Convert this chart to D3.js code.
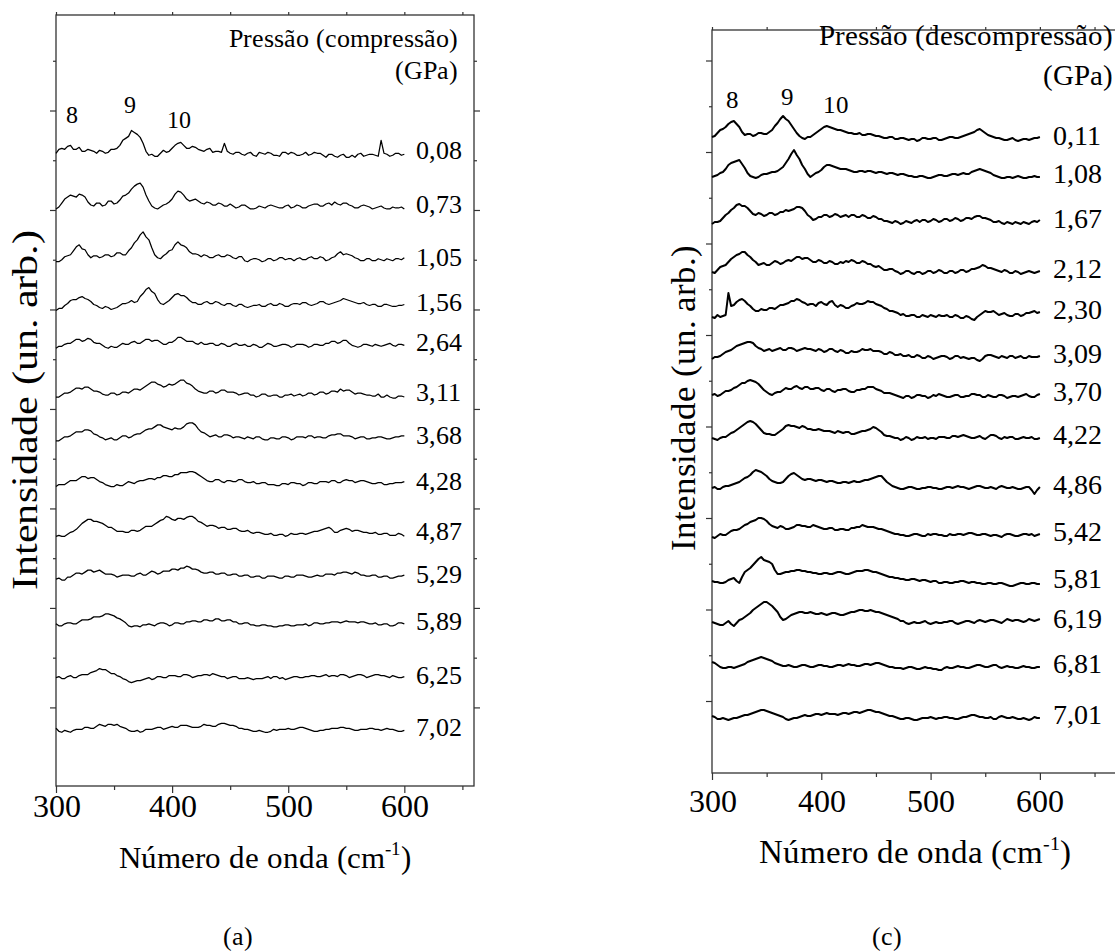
<!DOCTYPE html>
<html>
<head>
<meta charset="utf-8">
<script src="https://cdn.jsdelivr.net/npm/d3@7"></script>
<style>
  @font-face {
    font-family: "FigSerif";
    src: local("Liberation Serif"), local("LiberationSerif"), local("LiberationSerif-Regular"),
         local("Tinos"), local("Tinos-Regular"), local("DejaVu Serif"), local("DejaVuSerif"),
         local("Noto Serif"), local("NotoSerif-Regular"), local("Times New Roman"), local("TimesNewRomanPSMT"),
         local("FreeSerif"), local("NimbusRoman-Regular");
  }
  body { margin: 0; background: #fff; }
  svg { display: block; }
  svg text { font-family: "FigSerif", "Liberation Serif", "Tinos", "DejaVu Serif", "Noto Serif", "FreeSerif", "Times New Roman", Times, serif; fill: #000; }
</style>
</head>
<body>
<svg id="fig" width="1115" height="952"></svg>
<script>
// Raman shift grid shared by every spectrum (cm^-1)
const wavenumbers = [
  300,302.5,305,307.5,310,312.5,315,317.5,320,322.5,
  325,327.5,330,332.5,335,337.5,340,342.5,345,347.5,
  350,352.5,355,357.5,360,362.5,365,367.5,370,372.5,
  375,377.5,380,382.5,385,387.5,390,392.5,395,397.5,
  400,402.5,405,407.5,410,412.5,415,417.5,420,422.5,
  425,427.5,430,432.5,435,437.5,440,442.5,445,447.5,
  450,452.5,455,457.5,460,462.5,465,467.5,470,472.5,
  475,477.5,480,482.5,485,487.5,490,492.5,495,497.5,
  500,502.5,505,507.5,510,512.5,515,517.5,520,522.5,
  525,527.5,530,532.5,535,537.5,540,542.5,545,547.5,
  550,552.5,555,557.5,560,562.5,565,567.5,570,572.5,
  575,577.5,580,582.5,585,587.5,590,592.5,595,597.5,
  600];

// ---- (a) compression run ----
const pressuresA = ["0,08","0,73","1,05","1,56","2,64","3,11","3,68","4,28","4,87","5,29","5,89","6,25","7,02"];
const offsetsA = [557, 503, 450, 404, 364, 314, 271, 225, 174, 131, 84, 30, -23];
const sA008 = [0,4,5,4,7,8,4,4,6,2, 2,4,3,2,0,3,2,0,1,4, 4,5,8,13,15,17,23,21,19,16, 10,2,-2,-1,-3,-3,0,3,1,2,
  5,8,10,11,8,5,5,7,6,4, 3,2,4,5,1,2,2,1,10,2, 0,-1,1,1,-1,-2,0,1,-2,-3, 1,0,-1,1,0,-2,-2,-3,1,1,
  -1,1,0,-2,-2,-1,1,-2,-1,1, 0,0,-2,-4,-1,-1,-3,-4,-2,-1, -4,-4,-2,-4,-1,0,-3,-2,-1,-1, -2,-3,13,0,-1,-3,-2,0,0,-2, -1];
const sA073 = [-2,0,4,8,10,12,11,10,13,12, 10,5,2,1,4,4,1,2,6,6, 3,4,7,11,12,14,18,21,23,24, 20,12,6,1,-1,-2,0,2,3,5,
  8,13,16,15,12,8,6,7,8,6, 4,3,5,4,2,2,4,3,1,1, 3,1,-1,0,2,2,0,-2,-2,-1, 1,0,-1,1,2,1,0,-1,-1,1,
  2,-1,0,2,1,-1,-1,1,2,3, 3,1,1,3,4,2,5,3,2,4, 4,2,1,-1,-1,1,2,1,0,-2, -1,0,1,-1,-2,-2,0,-1,-1,0, -2];
const sA105 = [-2,-2,0,3,4,5,9,13,15,11, 10,5,2,4,4,2,3,5,5,3, 4,7,7,5,5,9,12,17,20,25, 28,23,20,12,5,2,1,4,6,9,
  10,15,18,15,14,12,8,6,6,5, 3,5,4,2,2,4,5,3,3,5, 4,2,1,3,3,-1,-2,0,1,1, 0,-2,-1,1,1,-1,0,2,2,0,
  1,1,-1,1,2,0,0,2,3,1, 1,3,2,-1,0,2,3,6,8,5, 6,5,4,2,1,-1,-1,1,1,-1, -1,1,0,-1,1,0,-1,1,1,0, 2];
const sA156 = [-5,-3,-3,0,2,5,6,6,8,9, 7,6,4,1,0,-2,-3,-1,-2,-4, -3,-2,0,2,2,3,5,3,4,9, 12,16,18,14,12,6,2,1,3,5,
  8,11,12,10,10,8,5,3,3,1, 1,3,4,2,2,4,3,1,0,2, 2,0,-1,1,1,-1,-2,-1,0,0, 1,-1,-1,1,2,0,0,2,1,-1,
  -1,1,2,2,1,3,3,1,0,1, 2,4,4,2,1,2,3,4,5,7, 6,5,4,3,2,2,3,1,0,1, 1,-1,-1,1,1,0,-1,-1,0,0, 1];
const sA264 = [-3,-1,-1,1,2,2,4,6,6,4, 5,7,6,3,2,2,0,-2,-3,-1, -2,-2,0,2,1,1,3,4,2,2, 4,6,6,4,5,5,3,1,1,3,
  3,5,8,8,6,4,4,4,2,1, 3,1,1,2,2,0,0,2,1,-1, -1,1,2,0,0,1,-1,-1,1,0, -2,-2,0,2,1,-1,-1,0,1,1,
  0,-2,-1,1,1,1,0,-2,-1,1, 1,0,0,2,2,4,4,2,3,5, 5,2,0,-1,-2,-1,1,1,0,-1, 1,0,-1,0,1,2,0,-1,1,1, 0];
const sA311 = [-2,-2,0,2,2,3,5,7,7,6, 8,8,6,4,4,3,1,0,0,2, 2,0,1,3,3,2,4,6,6,5, 7,9,11,13,13,11,10,8,9,11,
  10,11,13,15,15,12,11,9,6,4, 3,2,2,4,4,2,3,5,5,3, 3,3,2,0,1,2,2,0,0,-2, -1,1,1,-1,-1,0,0,-2,-2,0,
  0,1,-1,0,1,-1,0,2,2,0, 1,3,3,1,2,4,4,3,6,4, 5,5,3,1,2,2,1,0,0,-1, -1,1,-2,-2,0,-2,-3,-3,-1,-1, -2];
const sA368 = [-3,-3,-1,1,1,2,4,6,6,6, 8,8,7,4,3,1,0,-2,-1,0, -2,-2,0,2,2,0,1,3,4,4, 6,8,9,9,11,13,13,11,10,9,
  8,10,9,9,11,14,15,15,13,9, 6,5,3,1,2,3,1,1,3,3, 2,0,1,1,0,-1,1,0,-1,1, 1,-1,-2,-2,0,0,-1,-1,1,1,
  0,-2,-1,1,1,1,0,2,2,0, 1,1,0,0,2,3,3,4,4,2, 2,2,1,-1,0,1,1,-1,-1,0, 0,1,1,0,-1,-1,0,1,1,2, 2];
const sA428 = [-3,-1,-1,-1,1,3,3,3,5,7, 7,5,6,6,4,2,1,-1,-2,-3, -3,-1,-2,-2,0,2,1,0,2,3, 3,4,5,5,4,6,6,8,8,7,
  7,9,9,11,11,11,12,12,11,9, 7,5,3,2,2,4,4,2,1,3, 3,2,2,4,4,2,1,1,2,0, 0,1,1,-1,-1,-1,-2,-2,0,0,
  -1,1,1,0,0,-2,-1,1,1,0, 0,2,2,2,1,3,3,1,1,3, 4,3,3,1,2,3,3,2,1,0, 0,1,1,-1,-1,0,0,1,1,1, 2];
const sA487 = [-2,-1,-2,-2,0,2,3,5,8,11, 13,15,15,13,13,12,11,9,7,7, 5,3,3,3,2,2,4,4,3,4, 6,8,8,8,10,12,14,15,18,17,
  15,14,16,16,15,17,18,18,16,13, 12,10,8,9,9,8,6,7,7,5, 5,6,6,4,3,3,4,2,1,2, 2,1,0,0,1,-1,-1,0,0,-2,
  -1,1,0,0,1,1,0,1,2,3, 3,4,5,6,7,5,2,2,4,5, 6,5,3,4,4,3,2,2,1,1, 2,0,0,1,1,-1,-1,-1,1,0, -2];
const sA529 = [-2,-1,-3,-3,0,0,2,4,4,3, 5,7,7,5,6,7,5,3,3,3, 2,0,1,2,2,2,1,1,3,4, 2,2,4,6,5,3,4,6,6,6,
  8,8,7,9,9,11,10,8,8,7, 5,4,4,5,5,3,3,4,4,2, 2,3,3,1,1,2,2,0,0,1, 1,-1,-1,1,1,1,0,-1,-1,1,
  1,0,0,2,2,2,1,0,0,1, 2,1,1,3,3,3,2,4,4,5, 5,4,3,5,4,2,2,1,1,2, 2,0,0,1,1,-1,-1,0,1,1, 2];
const sA589 = [0,-2,-2,0,1,1,0,0,2,4, 4,4,5,7,7,7,8,10,10,9, 8,6,5,3,1,-2,-3,-2,-2,-3, -1,-1,0,-1,-2,0,1,1,0,-2,
  -1,1,1,0,0,2,2,3,3,2, 2,4,4,3,3,5,5,3,3,4, 4,2,2,0,0,1,1,-1,-1,-2, -2,-1,-1,-2,-2,-3,-3,-2,-2,-1,
  -1,-2,-2,-1,-1,-1,0,-2,-1,1, 1,0,0,1,1,2,2,2,1,2, 3,2,2,2,1,2,2,1,0,0, 1,-1,-1,0,0,-2,-2,-1,1,1, 0];
const sA625 = [0,1,-1,-1,1,2,0,0,2,3, 3,3,5,6,7,9,8,8,6,4, 4,2,1,-1,-2,-4,-5,-4,-3,-3, -2,-1,0,-2,-1,1,1,0,0,2,
  2,2,1,1,3,3,2,0,1,2, 2,3,3,2,4,3,2,1,1,-1, 0,1,1,-1,-1,-1,0,-1,-2,-1, -1,-1,0,1,-1,1,1,-1,0,-2,
  -1,0,1,1,0,0,1,1,2,2, 1,1,2,3,1,2,2,1,3,3, 2,0,1,2,3,3,2,0,1,2, 3,3,2,2,1,0,2,1,0,0, 1];
const sA702 = [2,-1,-2,0,-1,-2,0,1,1,1, 3,3,2,2,4,6,5,4,6,6, 5,6,4,3,2,0,-1,-1,0,-2, -1,1,1,1,2,3,3,1,2,3,
  4,3,3,5,5,5,4,3,3,3, 4,6,5,5,4,4,6,7,7,6, 5,5,4,2,2,1,1,0,-1,-1, 0,-1,-2,-2,-1,1,0,1,1,1,
  2,1,1,2,3,3,2,1,0,-1, -1,0,0,1,1,2,2,2,3,3, 2,2,1,0,0,1,1,1,2,2, 1,1,0,1,2,1,1,0,-1,-1, 0];
const spectraA = [sA008,sA073,sA105,sA156,sA264,sA311,sA368,sA428,sA487,sA529,sA589,sA625,sA702];

// ---- (c) decompression run ----
const pressuresC = ["0,11","1,08","1,67","2,12","2,30","3,09","3,70","4,22","4,86","5,42","5,81","6,19","6,81","7,01"];
const offsetsC = [549, 511, 466, 416, 375, 331, 293, 250, 200, 153, 106, 66, 21, -30];
const sC011 = [2,3,6,9,10,12,15,17,18,15, 12,7,4,5,5,3,4,6,6,5, 5,7,9,13,16,20,23,20,18,14, 10,6,3,1,0,2,2,4,6,8,
  10,12,13,12,11,10,9,9,8,7, 6,6,5,5,6,4,4,5,5,4, 3,3,2,1,1,2,2,0,0,1, 1,0,-1,0,0,-2,-1,1,1,0,
  0,1,1,-1,-1,0,1,2,2,1, 1,2,3,4,5,6,7,9,10,8, 6,4,3,2,1,1,0,-1,-1,0, 1,-1,-2,-1,0,0,-1,0,1,1, 2];
const sC108 = [0,1,2,4,5,8,12,14,15,16, 17,13,9,4,1,0,-1,0,2,3, 3,4,5,5,6,8,10,14,18,23, 27,22,18,12,8,3,0,2,4,5,
  7,10,12,12,11,10,9,8,8,8, 7,6,5,5,6,6,5,6,6,5, 4,5,5,4,3,4,4,3,2,3, 3,2,1,1,0,0,1,1,0,-1,
  -1,0,1,2,2,1,1,2,3,3, 2,3,4,3,3,5,6,7,8,7, 6,5,4,2,1,0,-1,-1,0,0, -1,0,1,0,-1,-1,0,0,1,0, 0];
const sC167 = [-2,0,0,1,4,7,9,12,14,17, 18,16,16,14,11,8,7,9,8,6, 7,9,9,7,8,10,10,12,11,12, 13,15,15,14,11,7,5,2,3,5,
  5,7,7,5,6,8,7,5,6,7, 5,7,7,5,5,7,6,4,4,6, 5,3,3,1,1,0,-1,1,0,-2, -1,1,0,-1,1,2,0,2,2,0,
  1,3,2,0,1,3,3,1,2,4, 3,1,2,4,4,3,5,6,6,4, 4,3,2,0,0,1,-1,-2,0,-1, -2,0,-1,-2,0,-1,-2,0,1,0, 2];
const sC212 = [0,-1,2,5,6,7,10,13,15,17, 18,20,20,17,15,12,10,7,8,9, 7,7,9,11,10,8,9,11,12,11, 13,15,15,13,14,14,12,10,10,12,
  11,9,9,11,10,8,8,10,9,11, 10,12,11,9,9,11,10,8,8,6, 5,6,4,2,2,3,3,1,0,-2, -1,1,1,-1,-2,0,0,-2,-1,1,
  1,-1,0,2,1,-1,-1,1,1,-1, 0,2,2,0,1,3,3,4,5,7, 6,4,4,3,2,1,0,2,1,-1, -1,1,0,-2,-1,0,1,0,-1,0, 1];
const sC230 = [-4,-5,-2,-4,-3,-2,20,7,8,11, 13,14,12,9,7,4,2,2,4,3, 3,5,5,4,6,8,8,9,10,12, 12,14,13,11,10,8,9,9,7,10,
  11,9,8,11,12,8,6,8,7,5, 5,7,8,10,9,9,10,12,11,11, 9,8,7,5,4,2,2,1,0,-2, -1,-3,-3,-2,-2,-4,-4,-2,-3,-4,
  -2,-3,-4,-2,-3,-3,-2,-4,-4,-2, -3,-5,-5,-3,-4,-6,-7,-4,-2,0, 2,1,1,2,0,-2,-1,0,-2,-3, -3,-1,-1,-3,-2,0,0,1,2,0, 1];
const sC309 = [-2,0,0,1,3,5,6,7,9,11, 12,13,14,15,15,14,11,9,8,6, 7,8,6,7,8,9,7,7,9,9, 8,6,7,8,9,8,8,7,6,8,
  7,5,6,8,8,6,5,7,6,4, 4,6,5,5,6,8,7,7,8,6, 6,6,5,3,3,5,4,2,2,3, 1,1,2,0,0,2,1,-1,-1,1,
  0,-2,-1,0,1,1,0,-2,-1,1, 1,-1,0,-1,-2,-1,-1,-3,-4,-2, 1,2,2,1,0,-1,1,0,-1,1, 1,-1,0,1,-1,-1,1,0,0,0, 1];
const sC370 = [0,1,-1,0,2,4,4,5,7,8, 10,12,12,14,15,14,13,11,8,5, 3,1,0,2,3,3,5,7,6,6, 8,9,7,6,8,8,6,6,7,7,
  5,4,6,6,4,3,5,5,6,6, 4,3,3,5,5,6,6,8,8,8, 6,5,4,2,2,2,1,0,-1,-2, -3,-1,-1,-3,-2,0,0,-1,-1,-3,
  -2,0,-1,1,0,-1,-2,-2,-1,0, 0,-2,-2,-1,-1,1,1,0,0,-2, -2,0,-1,-2,-2,0,0,-1,-3,-2, -1,-1,-2,-1,0,1,-1,-2,-2,0, 1];
const sC422 = [0,-1,-2,0,1,1,3,5,6,8, 10,12,14,16,17,16,14,11,8,5, 4,4,3,3,5,7,9,12,13,12, 12,11,10,12,11,9,9,8,8,9,
  8,7,7,7,6,5,7,6,5,6, 6,4,4,5,6,7,7,8,9,11, 10,8,6,3,2,2,1,0,0,-2, -1,1,0,-2,-1,1,0,0,1,-1,
  0,0,-1,1,1,1,0,0,2,2, 1,2,3,2,1,0,0,1,2,0, -1,1,3,3,2,0,-1,1,0,1, 1,-1,-1,0,1,0,0,1,-1,-1, 0];
const sC486 = [0,1,-1,-1,1,2,2,3,4,5, 6,8,10,11,13,16,18,17,16,14, 12,9,7,6,5,5,6,9,12,14, 15,13,11,9,8,9,9,8,7,8,
  8,7,6,7,7,6,5,5,6,6, 5,6,7,6,6,7,8,8,9,10, 11,12,12,9,6,4,2,1,0,-1, -1,0,1,1,0,-1,-1,0,0,1,
  1,0,0,-1,-1,0,1,1,0,1, 2,1,1,0,-1,0,1,2,2,1, 0,0,1,0,-1,1,2,1,0,0, 1,0,-1,-1,0,1,1,-2,-6,-2, 1];
const sC542 = [-2,-3,-1,1,0,0,2,4,5,5, 6,8,10,11,13,14,15,17,17,16, 14,11,9,8,7,9,8,6,6,7, 8,10,10,9,9,8,8,10,9,8,
  7,6,6,7,7,5,5,6,6,5, 5,7,7,8,8,10,9,8,8,8, 7,6,6,5,4,3,2,1,1,0, 0,-1,-1,0,1,1,0,-1,-1,1,
  0,1,1,0,0,-1,-1,1,0,0, 1,1,0,1,2,2,1,0,0,1, 1,0,-1,0,0,-1,-2,0,1,1, 0,-1,-1,0,1,1,0,1,-1,0, 1];
const sC581 = [1,0,0,-1,-1,0,2,3,4,1, -1,5,10,12,14,17,20,23,25,22, 21,20,18,12,8,8,9,10,10,11, 11,12,12,11,11,10,10,9,9,8,
  8,9,9,8,8,9,10,10,9,8, 8,9,10,11,11,11,12,12,11,10, 10,9,8,7,6,5,5,4,4,3, 3,2,2,3,3,2,1,2,2,1,
  0,1,1,-1,-1,0,0,-1,-1,0, 0,1,1,0,-1,0,0,-1,-1,-2, -2,-1,-1,-2,-2,-1,-1,-2,-3,-4, -4,-3,-2,-1,-1,-2,-2,-1,-1,-2, -2];
const sC619 = [0,-1,-2,-3,-3,-1,1,-2,-4,-1, 2,3,5,7,9,12,14,16,18,20, 20,18,16,13,10,5,2,3,5,7, 8,9,10,10,9,9,10,9,8,8,
  9,8,7,8,9,9,8,7,7,8, 9,10,10,11,12,12,11,11,12,11, 10,10,9,8,7,6,5,4,3,1, 1,-1,-2,-1,0,-1,-1,0,1,-1,
  -2,-1,0,-1,-1,0,0,1,1,-1, -2,-1,0,1,1,0,-1,1,2,1, 0,1,2,2,1,0,-1,1,3,2, 1,2,2,1,0,1,3,2,1,2, 3];
const sC681 = [5,4,2,0,-1,-1,0,0,-1,0, 1,2,3,5,6,7,8,9,10,9, 8,7,6,4,3,2,1,1,2,1, 0,0,1,2,2,1,0,0,1,2,
  2,1,1,0,0,1,2,2,1,2, 3,2,2,1,1,2,3,3,2,3, 4,4,3,2,1,0,0,-1,-1,-1, -2,-1,0,0,-1,-2,-2,-1,0,-1,
  -1,-2,-2,-3,-3,-1,0,-1,-1,0, 1,0,0,-1,-1,0,1,2,2,1, 0,0,1,2,2,0,-1,0,1,0, 0,-1,-1,0,1,0,0,-1,-1,0, 0];
const sC701 = [2,1,-1,-1,0,-1,-2,-1,0,0, 1,2,3,3,4,5,6,7,8,8, 7,6,5,4,3,2,1,-1,-2,-1, 0,0,1,2,3,2,2,3,4,4,
  3,4,5,4,4,4,3,4,5,5, 4,5,6,6,5,6,7,8,8,7, 6,6,5,4,3,2,2,1,0,-1, -1,0,0,-1,-2,-2,-1,0,0,0,
  1,0,-1,0,0,1,1,0,0,-1, -1,0,1,1,2,3,3,2,1,1, 0,0,1,-1,-1,1,2,1,0,0, 1,0,-1,-1,0,-1,-2,-1,1,0, 0];
const spectraC = [sC011,sC108,sC167,sC212,sC230,sC309,sC370,sC422,sC486,sC542,sC581,sC619,sC681,sC701];

// axis tick values
const xMajor = [300, 400, 500, 600];
const xMinor = [350, 450, 550, 650];
const xTickLabels = ["300", "400", "500", "600"];
const yMajorA = [0, 100, 200, 300, 400, 500, 600];
const yMajorC = d3.range(-13, 640, 91.5);

// band labels above the first spectrum
const bandNames = ["8", "9", "10"];
const bandPosA = [314, 364, 406];
const bandPosC = [319, 369, 413];

const svg = d3.select("#fig");

function drawPanel(p) {
  const x = d3.scaleLinear().domain(p.xDomain).range([p.left, p.right]);
  const y = d3.scaleLinear().domain(p.yDomain).range([p.bottom, p.top]);
  const g = svg.append("g");

  const step = p.yMajor[1] - p.yMajor[0];
  const yMinor = p.yMajor.map(v => v + step / 2).filter(v => v < p.yDomain[1]);

  const tickStyle = sel => {
    sel.attr("font-family", null);
    sel.select(".domain").remove();
    sel.selectAll(".tick line").attr("stroke", "#333").attr("stroke-width", 1.2);
  };

  // bottom axis with labels
  g.append("g").attr("transform", `translate(0,${p.bottom})`)
    .call(d3.axisBottom(x).tickValues(xMajor).tickSize(7).tickPadding(p.tickPad)
      .tickFormat((d, i) => xTickLabels[i]))
    .call(tickStyle)
    .call(s => s.selectAll(".tick text").attr("font-size", 32).attr("fill", "#000"));
  g.append("g").attr("transform", `translate(0,${p.bottom})`)
    .call(d3.axisBottom(x).tickValues(xMinor).tickSize(4).tickFormat(""))
    .call(tickStyle);
  // top mirror ticks
  g.append("g").attr("transform", `translate(0,${p.top})`)
    .call(d3.axisTop(x).tickValues(xMajor.concat(xMinor)).tickSize(3).tickFormat(""))
    .call(tickStyle);
  // left / right ticks (no labels)
  [[d3.axisLeft, p.left], [d3.axisRight, p.right]].forEach(([ax, pos]) => {
    g.append("g").attr("transform", `translate(${pos},0)`)
      .call(ax(y).tickValues(p.yMajor).tickSize(6).tickFormat(""))
      .call(tickStyle);
    g.append("g").attr("transform", `translate(${pos},0)`)
      .call(ax(y).tickValues(yMinor).tickSize(3).tickFormat(""))
      .call(tickStyle);
  });

  // frame
  g.append("rect")
    .attr("x", p.left).attr("y", p.top)
    .attr("width", p.right - p.left).attr("height", p.bottom - p.top)
    .attr("fill", "none").attr("stroke", "#333").attr("stroke-width", 1.3);

  // spectra, stacked by offset
  const line = d3.line().defined(d => Number.isFinite(d[1]))
    .x(d => x(d[0])).y(d => y(d[1]));
  p.spectra.forEach((s, i) => {
    const pts = wavenumbers.map((w, j) => [w, p.offsets[i] + s[j]]);
    g.append("path").attr("d", line(pts))
      .attr("fill", "none").attr("stroke", "#000")
      .attr("stroke-width", p.lineWidth).attr("stroke-linejoin", "round");
    g.append("text")
      .attr("x", x(600) + p.labelGap)
      .attr("y", y(p.offsets[i]) + 6)
      .attr("font-size", p.labelSize)
      .text(p.pressures[i]);
  });

  // header
  p.header.forEach((t, i) => {
    g.append("text").attr("x", p.headerX).attr("y", p.headerY[i])
      .attr("text-anchor", "end").attr("font-size", p.headerSize).text(t);
  });
  bandNames.forEach((b, i) => {
    g.append("text").attr("x", x(p.bandPos[i])).attr("y", p.bandY[i])
      .attr("text-anchor", "middle").attr("font-size", p.bandSize).text(b);
  });

  // axis titles
  const xt = g.append("text").attr("x", p.xTitleX).attr("y", p.xTitleY)
    .attr("text-anchor", "middle").attr("font-size", p.xTitleSize);
  xt.append("tspan").text("Número de onda (cm");
  xt.append("tspan").attr("dy", -13).attr("font-size", p.xTitleSize * 0.6).text("-1");
  xt.append("tspan").attr("dy", 13).text(")");

  g.append("text")
    .attr("transform", `translate(${p.yTitleX},${p.yTitleY}) rotate(-90)`)
    .attr("text-anchor", "middle").attr("font-size", p.yTitleSize)
    .attr("textLength", p.yTitleLen).attr("lengthAdjust", "spacingAndGlyphs")
    .text("Intensidade (un. arb.)");

  g.append("text").attr("x", p.capX).attr("y", 945)
    .attr("text-anchor", "middle").attr("font-size", 26).text(p.caption);
}

drawPanel({
  left: 56, right: 474, top: 15, bottom: 786,
  xDomain: [300, 660], yDomain: [-79, 696], yMajor: yMajorA,
  tickPad: 1,
  spectra: spectraA, offsets: offsetsA, pressures: pressuresA,
  lineWidth: 1.25, labelSize: 26, labelGap: 12,
  header: ["Pressão (compressão)", "(GPa)"], headerX: 458, headerY: [47, 79], headerSize: 26,
  bandPos: bandPosA, bandY: [123, 113, 128], bandSize: 24,
  xTitleX: 265, xTitleY: 868, xTitleSize: 31,
  yTitleX: 37, yTitleY: 410, yTitleSize: 36, yTitleLen: 360,
  capX: 238, caption: "(a)"
});

drawPanel({
  left: 712, right: 1116.4, top: 30, bottom: 773,
  xDomain: [300, 670], yDomain: [-85, 658], yMajor: yMajorC,
  tickPad: 9,
  spectra: spectraC, offsets: offsetsC, pressures: pressuresC,
  lineWidth: 2.0, labelSize: 28, labelGap: 13,
  header: ["Pressão (descompressão)", "(GPa)"], headerX: 1113, headerY: [45, 85], headerSize: 29,
  bandPos: bandPosC, bandY: [108, 105, 113], bandSize: 25,
  xTitleX: 915, xTitleY: 863, xTitleSize: 33,
  yTitleX: 695, yTitleY: 398, yTitleSize: 35, yTitleLen: 306,
  capX: 887, caption: "(c)"
});
</script>
</body>
</html>
